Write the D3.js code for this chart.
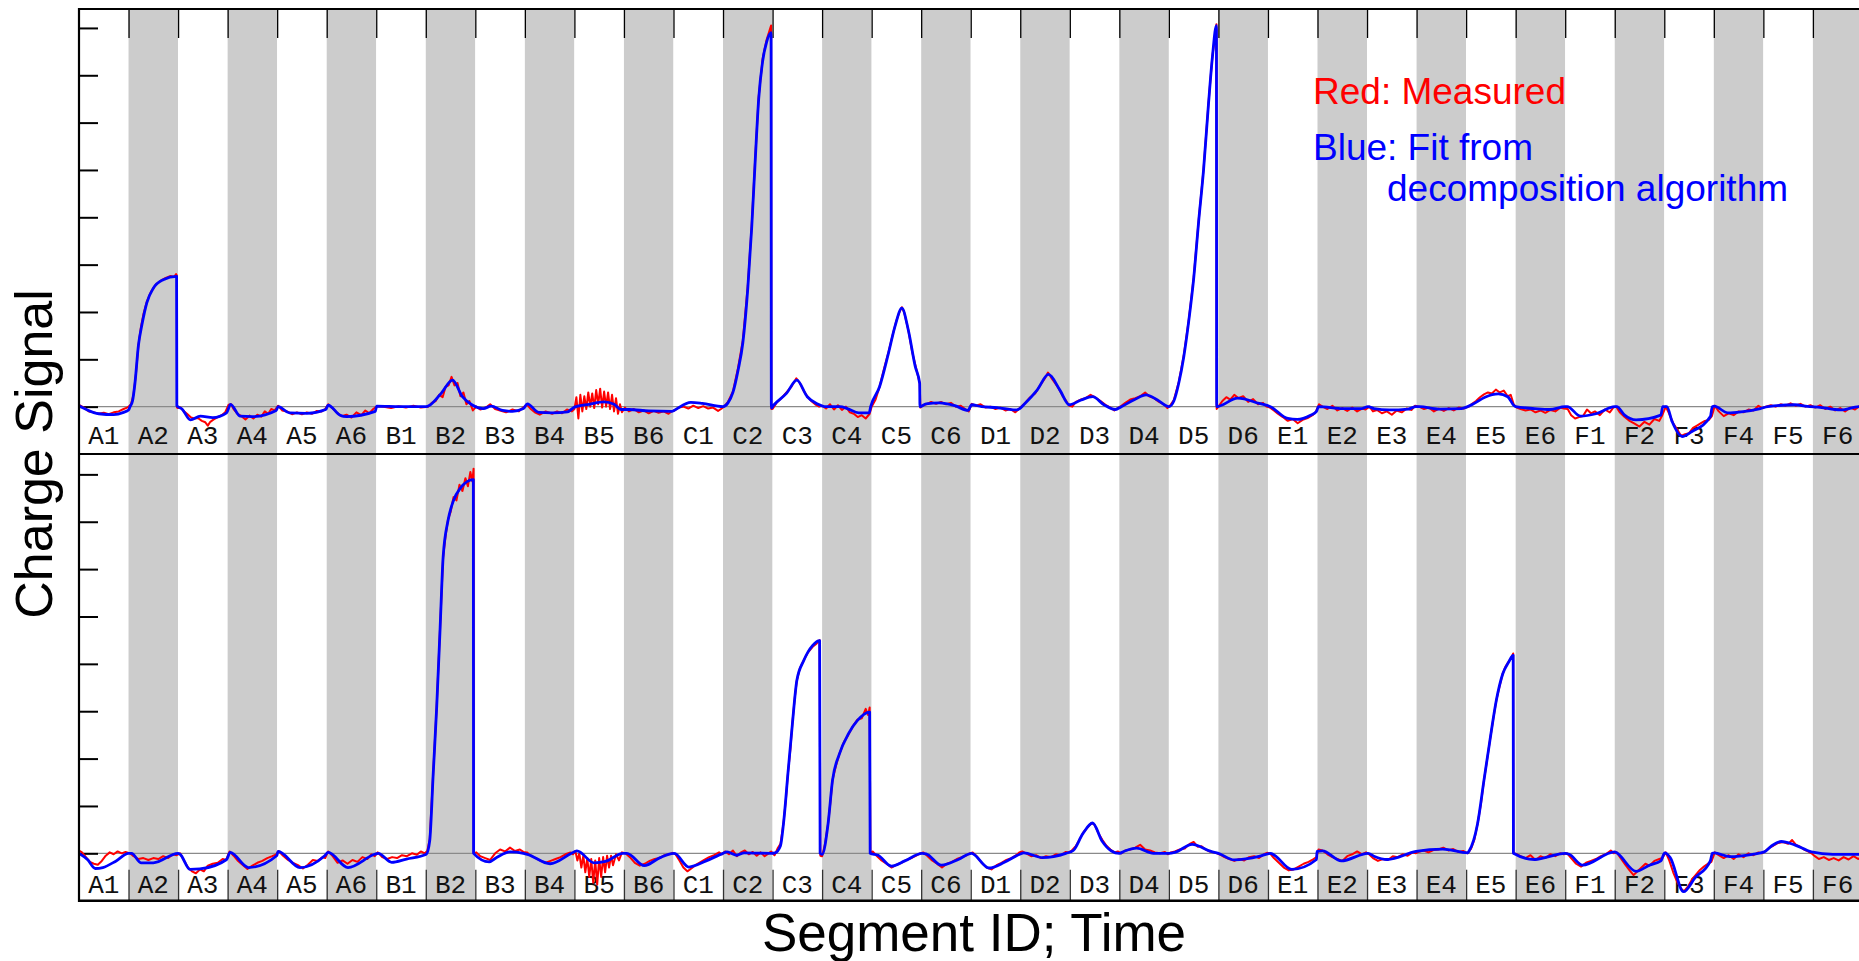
<!DOCTYPE html>
<html>
<head>
<meta charset="utf-8">
<script src="https://cdn.jsdelivr.net/npm/d3@7"></script>
<style>
  body { margin: 0; background: #fff; overflow: hidden; }
  text { font-family: "Liberation Sans", Arial, sans-serif; }
  .seg { font-family: "Liberation Mono", "Courier New", monospace; font-size: 26px; fill: #111; }
</style>
</head>
<body>
<svg id="chart" width="1859" height="961"></svg>
<script>
// segment ids along the time axis
var segments = ["A1","A2","A3","A4","A5","A6","B1","B2","B3","B4","B5","B6",
                "C1","C2","C3","C4","C5","C6","D1","D2","D3","D4","D5","D6",
                "E1","E2","E3","E4","E5","E6","F1","F2","F3","F4","F5","F6"];
var yTicks = [0, 1, 2, 3, 4, 5, 6, 7, 8];

// [time in segment units, charge]
var topFit = [
  [0,0.02],[0.15,-0.06],[0.4,-0.15],[0.7,-0.17],[0.9,-0.12],[1.0,-0.07],
  [1.03,0],[1.08,0.12],[1.13,0.5],[1.2,1.3],[1.27,1.73],[1.37,2.2],[1.5,2.5],[1.7,2.68],[1.97,2.75],[1.975,0.02],
  [2.08,-0.05],[2.25,-0.28],[2.45,-0.2],[2.7,-0.23],[2.98,-0.13],
  [3.06,0.05],[3.25,-0.2],[3.5,-0.21],[3.98,-0.08],
  [4.02,0.0],[4.25,-0.13],[4.6,-0.14],[4.98,-0.06],
  [5.03,0.03],[5.27,-0.18],[5.4,-0.21],[5.98,-0.1],
  [6.01,0.01],[6.5,0.0],[7.0,0.0],
  [7.08,0.03],[7.31,0.28],[7.54,0.56],[7.74,0.21],[7.93,0.04],
  [8.16,-0.04],[8.32,0.01],[8.55,-0.08],[8.75,-0.1],[8.97,-0.04],
  [9.05,0.06],[9.28,-0.12],[9.55,-0.13],[9.86,-0.11],[10.0,-0.01],
  [10.3,0.05],[10.6,0.1],[10.8,0.05],[10.94,-0.06],
  [11.1,-0.06],[11.5,-0.09],[11.97,-0.1],
  [12.01,-0.08],[12.35,0.09],[12.58,0.07],[13.0,0.0],
  [13.1,0.08],[13.2,0.3],[13.3,0.75],[13.4,1.35],[13.5,2.5],[13.58,3.8],[13.65,5.2],[13.72,6.5],[13.8,7.3],[13.88,7.7],[13.97,7.9],[13.975,-0.03],
  [14.02,0.03],[14.28,0.28],[14.49,0.56],[14.7,0.21],[14.9,0.06],
  [15.05,0.0],[15.36,0.0],[15.51,-0.04],[15.74,-0.13],[15.95,-0.13],[15.98,0.0],
  [16.16,0.42],[16.34,1.13],[16.47,1.69],[16.61,2.08],[16.74,1.62],[16.88,0.85],[16.97,0.49],[16.975,0.0],
  [17.1,0.06],[17.37,0.08],[17.68,0.02],[17.95,-0.08],[17.99,0.0],
  [18.02,0.04],[18.22,0.0],[18.53,-0.02],[18.91,-0.07],[18.99,-0.04],
  [19.07,0.04],[19.34,0.35],[19.57,0.68],[19.8,0.35],[19.99,0.04],
  [20.23,0.14],[20.46,0.21],[20.69,0.04],[20.92,-0.06],[21.04,0.0],
  [21.31,0.15],[21.54,0.25],[21.77,0.14],[22.0,0.0],
  [22.1,0.12],[22.2,0.5],[22.3,1.05],[22.4,1.8],[22.5,2.7],[22.6,3.9],[22.7,5.0],[22.8,6.4],[22.88,7.4],[22.96,8.05],[22.965,0.0],
  [23.39,0.18],[23.82,0.07],[24.05,0.0],
  [24.4,-0.25],[24.59,-0.27],[24.86,-0.18],[24.98,-0.1],
  [25.02,0.0],[25.52,-0.04],[25.9,-0.04],[26.02,0.0],
  [26.14,-0.04],[26.45,-0.07],[26.83,-0.05],[26.99,0.0],
  [27.06,0.0],[27.45,-0.05],[27.91,-0.04],[28.03,0.0],
  [28.15,0.06],[28.38,0.2],[28.65,0.27],[28.84,0.21],[28.96,0.03],
  [29.0,0.0],[29.38,-0.04],[29.69,-0.06],[30.0,0.0],
  [30.04,0.0],[30.31,-0.2],[30.62,-0.15],[31.0,0.0],
  [31.04,0.0],[31.2,-0.18],[31.43,-0.28],[31.93,-0.18],[31.97,0.0],
  [32.05,0.0],[32.16,-0.32],[32.36,-0.63],[32.55,-0.53],[32.93,-0.21],[32.97,0.0],
  [33.01,0.01],[33.28,-0.13],[33.55,-0.11],[33.94,-0.04],
  [34.09,0.0],[34.63,0.04],[34.94,0.0],
  [35.1,-0.01],[35.56,-0.07],[35.93,0.0],[36.0,0.0]
];

var topMeasured = [
  [0,0.04],[0.1,-0.02],[0.2,-0.1],[0.3,-0.12],[0.4,-0.15],[0.5,-0.13],[0.6,-0.16],[0.7,-0.12],[0.8,-0.1],[0.9,-0.05],[0.97,-0.02],
  [1.0,0],[1.05,0.05],[1.1,0.25],[1.15,0.7],[1.2,1.3],[1.25,1.68],[1.3,1.95],[1.37,2.22],[1.45,2.42],[1.55,2.58],[1.65,2.66],[1.75,2.72],[1.85,2.76],[1.92,2.74],[1.96,2.8],[1.975,2.77],[1.978,-0.02],
  [2.0,-0.03],[2.05,-0.02],[2.1,-0.08],[2.18,-0.15],[2.25,-0.22],[2.32,-0.25],[2.4,-0.24],[2.48,-0.3],[2.55,-0.33],[2.6,-0.4],[2.65,-0.32],[2.72,-0.27],[2.8,-0.22],[2.88,-0.18],[2.95,-0.12],
  [3.02,0.04],[3.07,0.05],[3.12,-0.05],[3.2,-0.15],[3.28,-0.2],[3.36,-0.27],[3.44,-0.19],[3.52,-0.25],[3.6,-0.17],[3.68,-0.21],[3.75,-0.1],[3.82,-0.15],[3.88,-0.05],[3.95,-0.08],
  [4.02,0.02],[4.1,-0.08],[4.2,-0.1],[4.3,-0.16],[4.4,-0.12],[4.5,-0.16],[4.6,-0.12],[4.7,-0.15],[4.8,-0.09],[4.9,-0.1],[4.97,-0.05],
  [5.03,0.05],[5.1,-0.02],[5.2,-0.12],[5.3,-0.2],[5.4,-0.17],[5.5,-0.23],[5.6,-0.12],[5.7,-0.18],[5.78,-0.08],[5.86,-0.14],[5.94,-0.05],
  [6.02,0.01],[6.15,0.0],[6.3,-0.03],[6.45,0.01],[6.6,-0.02],[6.75,0.02],[6.9,-0.02],
  [7.05,0.0],[7.12,0.08],[7.2,0.12],[7.27,0.25],[7.34,0.2],[7.4,0.42],[7.46,0.45],[7.52,0.63],[7.58,0.45],[7.64,0.5],[7.7,0.22],[7.76,0.3],[7.82,0.05],[7.88,0.12],[7.95,-0.08],
  [8.02,0.0],[8.1,-0.06],[8.2,-0.03],[8.3,0.05],[8.4,-0.05],[8.5,-0.08],[8.62,-0.12],[8.75,-0.06],[8.88,-0.1],[8.96,-0.02],
  [9.05,0.04],[9.12,-0.05],[9.2,-0.12],[9.3,-0.17],[9.42,-0.1],[9.55,-0.15],[9.65,-0.1],[9.75,-0.14],[9.85,-0.06],[9.95,-0.1],
  [10.0,-0.05],[10.04,0.2],[10.08,-0.25],[10.12,0.25],[10.16,-0.1],[10.2,0.22],[10.24,-0.05],[10.28,0.3],[10.32,0.0],[10.36,0.28],[10.4,-0.03],[10.44,0.35],[10.48,0.05],[10.52,0.38],[10.56,-0.02],[10.6,0.32],[10.64,0.0],[10.68,0.3],[10.72,-0.05],[10.76,0.25],[10.8,-0.1],[10.84,0.18],[10.88,-0.15],[10.92,0.05],[10.96,-0.12],
  [11.02,-0.02],[11.1,-0.1],[11.2,-0.05],[11.3,-0.12],[11.4,-0.08],[11.5,-0.14],[11.6,-0.09],[11.7,-0.13],[11.8,-0.1],[11.9,-0.15],[11.96,-0.1],
  [12.02,-0.08],[12.1,-0.02],[12.2,0.0],[12.3,-0.04],[12.4,0.02],[12.5,-0.03],[12.6,0.01],[12.7,-0.04],[12.8,-0.02],[12.9,-0.09],[12.96,-0.05],
  [13.02,0.0],[13.1,0.1],[13.2,0.32],[13.3,0.8],[13.4,1.4],[13.5,2.55],[13.58,3.85],[13.65,5.25],[13.72,6.55],[13.8,7.35],[13.88,7.75],[13.94,7.95],[13.97,8.05],[13.975,-0.05],
  [14.0,-0.05],[14.08,0.08],[14.18,0.18],[14.28,0.3],[14.38,0.42],[14.48,0.6],[14.55,0.5],[14.62,0.35],[14.7,0.22],[14.78,0.12],[14.86,0.05],[14.94,0.0],
  [15.0,0.02],[15.08,-0.04],[15.16,0.05],[15.24,-0.06],[15.32,0.03],[15.4,-0.07],[15.48,0.0],[15.56,-0.12],[15.64,-0.15],[15.72,-0.22],[15.8,-0.18],[15.88,-0.25],[15.96,-0.15],
  [16.0,0.0],[16.08,0.15],[16.16,0.42],[16.25,0.8],[16.34,1.15],[16.42,1.5],[16.5,1.82],[16.57,2.02],[16.61,2.1],[16.66,1.98],[16.74,1.62],[16.82,1.15],[16.9,0.8],[16.97,0.5],[16.985,-0.02],
  [17.02,0.02],[17.1,0.05],[17.2,0.1],[17.3,0.06],[17.4,0.1],[17.5,0.05],[17.6,0.08],[17.7,0.0],[17.8,0.02],[17.9,-0.06],[17.96,-0.1],
  [18.02,0.06],[18.1,0.02],[18.2,0.05],[18.3,-0.02],[18.4,0.0],[18.5,-0.05],[18.6,-0.02],[18.7,-0.08],[18.8,-0.05],[18.9,-0.12],[18.96,-0.06],
  [19.02,0.0],[19.1,0.08],[19.2,0.2],[19.3,0.28],[19.4,0.45],[19.5,0.6],[19.56,0.72],[19.62,0.62],[19.7,0.5],[19.78,0.38],[19.86,0.22],[19.94,0.1],[19.99,0.02],
  [20.05,0.0],[20.12,0.1],[20.22,0.15],[20.32,0.18],[20.42,0.25],[20.52,0.19],[20.62,0.12],[20.72,0.04],[20.82,-0.02],[20.9,-0.08],[20.97,-0.03],
  [21.04,0.02],[21.12,0.08],[21.22,0.15],[21.32,0.18],[21.42,0.22],[21.52,0.3],[21.6,0.22],[21.7,0.18],[21.8,0.1],[21.9,0.05],[21.97,-0.03],
  [22.02,0.02],[22.1,0.14],[22.2,0.52],[22.3,1.08],[22.4,1.82],[22.5,2.72],[22.6,3.92],[22.7,5.02],[22.8,6.42],[22.88,7.42],[22.93,7.8],[22.96,8.08],[22.965,-0.05],
  [23.0,0.0],[23.08,0.12],[23.16,0.2],[23.24,0.15],[23.32,0.25],[23.4,0.18],[23.5,0.22],[23.6,0.1],[23.7,0.16],[23.8,0.05],[23.9,0.08],[23.97,0.0],
  [24.04,-0.02],[24.12,-0.08],[24.2,-0.15],[24.3,-0.22],[24.4,-0.3],[24.5,-0.26],[24.6,-0.35],[24.7,-0.28],[24.8,-0.24],[24.9,-0.18],[24.96,-0.12],
  [25.03,0.05],[25.1,0.0],[25.2,-0.05],[25.3,0.02],[25.4,-0.08],[25.5,-0.03],[25.6,-0.09],[25.7,-0.02],[25.8,-0.1],[25.9,-0.04],[25.97,-0.06],
  [26.05,0.0],[26.12,-0.1],[26.2,-0.07],[26.3,-0.14],[26.4,-0.1],[26.5,-0.17],[26.6,-0.08],[26.7,-0.12],[26.8,-0.04],[26.9,-0.07],[26.97,0.02],
  [27.05,0.0],[27.15,-0.05],[27.25,-0.02],[27.35,-0.1],[27.45,-0.04],[27.55,-0.09],[27.65,-0.03],[27.75,-0.08],[27.85,-0.02],[27.95,-0.04],
  [28.05,0.0],[28.12,0.06],[28.2,0.12],[28.28,0.2],[28.36,0.26],[28.44,0.3],[28.52,0.28],[28.6,0.36],[28.68,0.3],[28.76,0.34],[28.84,0.22],[28.9,0.25],[28.96,0.05],
  [29.02,-0.02],[29.1,-0.05],[29.2,-0.08],[29.3,-0.06],[29.4,-0.12],[29.5,-0.08],[29.6,-0.13],[29.7,-0.07],[29.8,-0.1],[29.9,-0.02],[29.97,-0.04],
  [30.05,-0.05],[30.12,-0.18],[30.2,-0.25],[30.28,-0.22],[30.36,-0.2],[30.44,-0.06],[30.52,-0.14],[30.6,-0.1],[30.7,-0.18],[30.8,-0.06],[30.9,-0.12],[30.97,-0.02],
  [31.03,0.0],[31.1,-0.12],[31.2,-0.22],[31.3,-0.3],[31.4,-0.36],[31.5,-0.42],[31.6,-0.32],[31.7,-0.38],[31.8,-0.26],[31.9,-0.3],[31.96,-0.18],
  [32.03,0.0],[32.1,-0.15],[32.18,-0.35],[32.26,-0.48],[32.34,-0.62],[32.42,-0.58],[32.5,-0.56],[32.58,-0.45],[32.66,-0.4],[32.74,-0.35],[32.82,-0.3],[32.9,-0.28],[32.96,-0.2],
  [33.02,0.02],[33.1,-0.1],[33.2,-0.2],[33.3,-0.14],[33.4,-0.18],[33.5,-0.1],[33.6,-0.12],[33.7,-0.06],[33.8,-0.08],[33.9,0.02],[33.97,-0.03],
  [34.05,0.0],[34.15,0.03],[34.25,0.0],[34.35,0.05],[34.45,0.02],[34.55,0.07],[34.65,0.02],[34.75,0.06],[34.85,0.0],[34.95,0.03],
  [35.05,-0.02],[35.15,0.03],[35.25,-0.05],[35.35,0.0],[35.45,-0.08],[35.55,-0.03],[35.65,-0.1],[35.75,-0.02],[35.85,-0.06],[35.95,0.02],[36.0,0.0]
];

var bottomFit = [
  [0,0.0],[0.17,-0.13],[0.33,-0.32],[0.48,-0.3],[0.75,-0.16],[1.0,0.0],
  [1.06,0.0],[1.25,-0.2],[1.5,-0.2],[2.0,0.0],
  [2.04,-0.02],[2.24,-0.34],[2.44,-0.33],[2.98,-0.13],
  [3.05,0.02],[3.42,-0.3],[3.99,-0.05],
  [4.02,0.04],[4.46,-0.3],[4.96,-0.05],
  [5.03,0.02],[5.43,-0.3],[5.97,-0.02],
  [6.04,0.0],[6.31,-0.19],[6.61,-0.12],[7.01,-0.02],
  [7.08,0.27],[7.15,1.68],[7.22,3.08],[7.29,4.77],[7.35,6.25],[7.45,7.03],[7.56,7.45],[7.69,7.7],[7.96,7.89],[7.965,0.0],
  [8.28,-0.18],[8.43,-0.09],[8.7,0.03],[8.97,0.0],
  [9.05,-0.02],[9.51,-0.22],[9.94,0.0],
  [10.05,0.05],[10.4,-0.2],[10.63,-0.17],[10.98,0.0],
  [11.06,0.0],[11.41,-0.26],[11.73,-0.09],[12.01,0.0],
  [12.04,-0.01],[12.31,-0.29],[12.66,-0.16],[13.0,0.0],
  [13.08,0.03],[13.27,-0.04],[13.43,0.01],[13.97,0.0],
  [14.05,0.01],[14.16,0.16],[14.22,0.62],[14.31,1.68],[14.4,2.73],[14.49,3.65],[14.63,4.07],[14.81,4.39],[14.95,4.49],[14.96,0.0],
  [15.0,-0.02],[15.12,0.62],[15.21,1.54],[15.35,2.1],[15.53,2.52],[15.71,2.8],[15.96,2.98],[15.97,0.0],
  [16.13,-0.04],[16.4,-0.27],[16.67,-0.16],[17.02,0.0],
  [17.1,-0.01],[17.41,-0.25],[17.75,-0.13],[18.02,0.0],
  [18.06,-0.02],[18.37,-0.31],[18.68,-0.19],[18.99,-0.02],
  [19.07,0.01],[19.45,-0.09],[19.92,0.0],
  [20.07,0.06],[20.26,0.41],[20.46,0.64],[20.65,0.26],[20.84,0.05],[21.0,0.0],
  [21.11,0.05],[21.35,0.11],[21.69,0.0],[22.0,0.0],
  [22.12,0.02],[22.47,0.19],[22.85,0.04],[23.0,0.0],
  [23.32,-0.14],[23.84,-0.06],[24.05,0.0],
  [24.13,-0.04],[24.48,-0.34],[24.98,-0.13],
  [24.99,0.04],[25.1,0.05],[25.48,-0.16],[26.02,0.0],
  [26.14,-0.06],[26.41,-0.13],[26.99,0.04],
  [27.53,0.09],[28.03,0.01],
  [28.06,0.05],[28.23,0.62],[28.36,1.54],[28.48,2.38],[28.61,3.23],[28.74,3.79],[28.86,4.04],[28.95,4.18],[28.955,0.0],
  [29.38,-0.13],[30.0,0.0],
  [30.08,-0.02],[30.35,-0.25],[31.0,0.03],
  [31.04,0.01],[31.43,-0.38],[31.7,-0.25],[31.93,-0.16],
  [32.01,0.01],[32.12,-0.09],[32.39,-0.81],[32.62,-0.52],[32.93,-0.16],[32.97,0.0],
  [33.01,0.01],[33.32,-0.07],[33.78,-0.02],[34.02,0.03],
  [34.17,0.16],[34.36,0.25],[34.63,0.18],[34.97,0.03],
  [35.4,-0.02],[35.93,-0.02],[36.0,-0.02]
];

var bottomMeasured = [
  [0.0,0.06],[0.06,0.02],[0.14,-0.08],[0.22,-0.18],[0.3,-0.22],[0.38,-0.24],[0.46,-0.16],[0.54,-0.05],[0.62,0.02],[0.7,-0.02],[0.78,0.04],[0.86,0.0],[0.94,0.03],
  [1.03,0.0],[1.1,-0.06],[1.2,-0.12],[1.3,-0.1],[1.4,-0.14],[1.5,-0.1],[1.6,-0.12],[1.7,-0.06],[1.8,-0.1],[1.9,-0.02],[1.97,-0.04],
  [2.04,0.0],[2.12,-0.15],[2.2,-0.3],[2.28,-0.38],[2.36,-0.42],[2.44,-0.34],[2.52,-0.38],[2.6,-0.26],[2.7,-0.22],[2.8,-0.2],[2.9,-0.12],[2.97,-0.14],
  [3.04,0.04],[3.12,-0.05],[3.2,-0.15],[3.3,-0.24],[3.4,-0.33],[3.5,-0.26],[3.6,-0.2],[3.7,-0.16],[3.8,-0.1],[3.9,-0.06],[3.97,-0.03],
  [4.03,0.05],[4.12,-0.05],[4.22,-0.14],[4.32,-0.2],[4.42,-0.25],[4.52,-0.32],[4.62,-0.24],[4.72,-0.14],[4.82,-0.16],[4.92,-0.08],[4.97,-0.1],
  [5.03,0.04],[5.12,-0.06],[5.22,-0.2],[5.32,-0.15],[5.42,-0.22],[5.52,-0.14],[5.62,-0.18],[5.72,-0.08],[5.82,-0.12],[5.9,-0.02],[5.97,-0.06],
  [6.03,0.02],[6.12,-0.08],[6.22,-0.12],[6.32,-0.08],[6.42,-0.1],[6.52,-0.04],[6.62,-0.06],[6.72,0.0],[6.82,-0.03],[6.9,0.04],[6.98,0.0],
  [7.03,0.05],[7.08,0.3],[7.15,1.7],[7.22,3.1],[7.29,4.8],[7.35,6.25],[7.4,6.7],[7.45,7.05],[7.5,7.2],[7.56,7.52],[7.62,7.45],[7.68,7.78],[7.74,7.65],[7.8,7.92],[7.85,7.75],[7.9,8.05],[7.94,7.85],[7.965,8.12],[7.968,0.0],
  [8.02,0.02],[8.1,-0.06],[8.2,-0.1],[8.3,-0.14],[8.4,0.0],[8.5,0.08],[8.6,0.04],[8.7,0.12],[8.8,0.05],[8.9,0.08],[8.97,0.03],
  [9.04,0.02],[9.12,-0.05],[9.22,-0.1],[9.32,-0.16],[9.42,-0.2],[9.52,-0.16],[9.62,-0.12],[9.72,-0.08],[9.82,-0.02],[9.92,0.02],[9.97,-0.02],
  [10.02,0.05],[10.06,-0.15],[10.1,0.0],[10.14,-0.3],[10.18,-0.05],[10.22,-0.4],[10.26,-0.1],[10.3,-0.5],[10.34,-0.12],[10.38,-0.62],[10.42,-0.15],[10.46,-0.66],[10.5,-0.1],[10.54,-0.5],[10.58,-0.08],[10.62,-0.4],[10.66,-0.05],[10.7,-0.3],[10.74,-0.05],[10.78,-0.25],[10.84,-0.02],[10.9,-0.15],[10.96,0.02],
  [11.03,0.0],[11.12,-0.08],[11.22,-0.2],[11.32,-0.26],[11.42,-0.22],[11.52,-0.16],[11.62,-0.12],[11.72,-0.1],[11.82,-0.04],[11.92,-0.02],[11.98,0.01],
  [12.04,-0.02],[12.12,-0.15],[12.2,-0.3],[12.28,-0.38],[12.36,-0.32],[12.44,-0.25],[12.52,-0.2],[12.62,-0.14],[12.72,-0.08],[12.82,-0.04],[12.92,0.02],[12.98,-0.02],
  [13.04,0.04],[13.12,-0.02],[13.2,0.06],[13.28,-0.06],[13.36,0.02],[13.44,0.06],[13.52,-0.02],[13.6,0.03],[13.68,-0.05],[13.76,0.02],[13.84,-0.06],[13.92,0.0],[13.97,0.04],
  [14.04,-0.04],[14.1,0.1],[14.16,0.2],[14.22,0.63],[14.27,1.15],[14.31,1.68],[14.36,2.2],[14.4,2.75],[14.45,3.3],[14.49,3.65],[14.55,3.9],[14.63,4.08],[14.72,4.25],[14.81,4.36],[14.88,4.42],[14.95,4.5],[14.965,-0.05],
  [15.0,-0.06],[15.06,0.2],[15.12,0.62],[15.17,1.1],[15.21,1.55],[15.28,1.85],[15.35,2.1],[15.44,2.35],[15.53,2.5],[15.62,2.68],[15.71,2.82],[15.8,2.85],[15.88,3.05],[15.93,2.92],[15.96,3.08],[15.975,0.0],
  [16.02,0.04],[16.1,-0.05],[16.2,-0.15],[16.3,-0.22],[16.4,-0.3],[16.5,-0.24],[16.6,-0.2],[16.7,-0.14],[16.8,-0.1],[16.9,-0.05],[16.98,0.0],
  [17.04,0.02],[17.12,-0.05],[17.22,-0.15],[17.32,-0.22],[17.42,-0.3],[17.52,-0.22],[17.62,-0.18],[17.72,-0.12],[17.82,-0.08],[17.92,-0.04],[17.98,0.0],
  [18.04,0.02],[18.12,-0.06],[18.22,-0.2],[18.32,-0.3],[18.42,-0.34],[18.52,-0.25],[18.62,-0.2],[18.72,-0.14],[18.82,-0.1],[18.92,-0.04],[18.98,0.02],
  [19.04,0.04],[19.12,0.0],[19.22,-0.06],[19.32,-0.04],[19.42,-0.1],[19.52,-0.06],[19.62,-0.08],[19.72,-0.02],[19.82,-0.04],[19.92,0.03],[19.98,0.02],
  [20.04,0.06],[20.12,0.15],[20.2,0.3],[20.28,0.45],[20.36,0.55],[20.44,0.64],[20.5,0.6],[20.58,0.42],[20.66,0.28],[20.74,0.16],[20.82,0.08],[20.9,0.02],[20.97,0.04],
  [21.04,0.0],[21.12,0.06],[21.22,0.08],[21.32,0.12],[21.42,0.18],[21.52,0.08],[21.62,0.06],[21.72,0.02],[21.82,0.0],[21.92,0.03],[21.98,-0.02],
  [22.04,0.02],[22.12,0.04],[22.22,0.08],[22.32,0.1],[22.42,0.2],[22.5,0.24],[22.58,0.14],[22.66,0.15],[22.74,0.08],[22.82,0.04],[22.9,0.02],[22.97,0.0],
  [23.04,-0.03],[23.12,-0.08],[23.22,-0.12],[23.32,-0.16],[23.42,-0.12],[23.52,-0.15],[23.62,-0.08],[23.72,-0.06],[23.82,-0.1],[23.92,-0.02],[23.98,0.01],
  [24.04,0.0],[24.12,-0.1],[24.22,-0.2],[24.32,-0.3],[24.42,-0.36],[24.52,-0.34],[24.62,-0.28],[24.72,-0.22],[24.82,-0.18],[24.92,-0.12],[24.98,-0.08],
  [25.02,0.08],[25.1,0.06],[25.2,-0.02],[25.3,-0.08],[25.4,-0.12],[25.5,-0.16],[25.6,-0.06],[25.7,-0.02],[25.8,0.04],[25.9,-0.02],[25.98,0.02],
  [26.04,-0.02],[26.12,-0.1],[26.22,-0.16],[26.32,-0.12],[26.42,-0.14],[26.52,-0.06],[26.62,-0.08],[26.72,-0.02],[26.82,-0.05],[26.92,0.02],[26.98,0.0],
  [27.04,0.03],[27.14,0.06],[27.24,0.02],[27.34,0.07],[27.44,0.08],[27.54,0.12],[27.64,0.06],[27.74,0.09],[27.84,0.03],[27.94,0.05],
  [28.03,0.0],[28.1,0.1],[28.17,0.3],[28.23,0.62],[28.3,1.05],[28.36,1.54],[28.42,1.95],[28.48,2.38],[28.55,2.85],[28.61,3.23],[28.68,3.55],[28.74,3.8],[28.8,3.95],[28.86,4.05],[28.91,4.12],[28.95,4.22],[28.955,0.0],
  [29.02,-0.02],[29.1,-0.06],[29.2,-0.1],[29.3,-0.04],[29.4,-0.14],[29.5,-0.06],[29.6,-0.1],[29.7,-0.02],[29.8,-0.06],[29.9,0.0],[29.97,-0.02],
  [30.04,0.0],[30.12,-0.1],[30.22,-0.22],[30.32,-0.28],[30.42,-0.2],[30.52,-0.16],[30.62,-0.12],[30.72,-0.06],[30.82,-0.02],[30.92,0.06],[30.98,0.0],
  [31.04,0.02],[31.12,-0.1],[31.22,-0.25],[31.3,-0.36],[31.38,-0.46],[31.46,-0.38],[31.54,-0.3],[31.62,-0.22],[31.7,-0.26],[31.8,-0.16],[31.9,-0.12],[31.96,-0.1],
  [32.03,0.02],[32.1,-0.15],[32.18,-0.4],[32.26,-0.6],[32.34,-0.75],[32.4,-0.8],[32.48,-0.7],[32.56,-0.55],[32.64,-0.45],[32.72,-0.35],[32.8,-0.28],[32.88,-0.22],[32.95,-0.18],
  [33.02,0.02],[33.1,-0.04],[33.2,-0.1],[33.3,-0.04],[33.4,-0.12],[33.5,-0.02],[33.6,-0.08],[33.7,0.0],[33.8,-0.04],[33.9,0.02],[33.97,0.0],
  [34.04,0.05],[34.12,0.12],[34.2,0.16],[34.3,0.22],[34.4,0.24],[34.5,0.2],[34.58,0.28],[34.66,0.18],[34.74,0.14],[34.82,0.08],[34.9,0.04],[34.97,0.0],
  [35.04,-0.06],[35.12,-0.12],[35.22,-0.08],[35.32,-0.14],[35.42,-0.1],[35.52,-0.15],[35.62,-0.08],[35.72,-0.13],[35.82,-0.06],[35.92,-0.12],[36.0,-0.05]
];

var svg = d3.select("#chart");

var left = 79, segW = 49.54;
var x = d3.scaleLinear().domain([0, segments.length]).range([left, left + segW * segments.length]);
var right = x(segments.length);

var panels = [
  { fit: topFit, meas: topMeasured, top: 9, bottom: 454, labelY: 444, maxV: 8.4, topTicks: true, cellLines: false },
  { fit: bottomFit, meas: bottomMeasured, top: 454, bottom: 900.7, labelY: 893, maxV: 8.43, topTicks: false, cellLines: true }
];

panels.forEach(function(p) {
  var y = d3.scaleLinear().domain([-1, p.maxV]).range([p.bottom, p.top]);
  var g = svg.append("g");

  // alternating grey stripes, one per segment
  g.selectAll("rect.stripe")
    .data(segments)
    .enter().append("rect")
    .attr("class", "stripe")
    .attr("x", function(d, i) { return x(i); })
    .attr("y", p.top)
    .attr("width", function(d, i) { return x(i + 1) - x(i); })
    .attr("height", p.bottom - p.top)
    .attr("fill", function(d, i) { return i % 2 ? "#cccccc" : "#ffffff"; });

  // segment names
  g.selectAll("text.seg")
    .data(segments)
    .enter().append("text")
    .attr("class", "seg")
    .attr("x", function(d, i) { return x(i + 0.5); })
    .attr("y", p.labelY)
    .attr("text-anchor", "middle")
    .text(function(d) { return d; });

  if (p.cellLines) {
    var cells = g.append("g")
      .attr("transform", "translate(0," + p.bottom + ")")
      .call(d3.axisTop(x).tickValues(d3.range(1, segments.length)).tickSize(31).tickFormat(""));
    cells.select(".domain").remove();
    cells.selectAll("line").attr("stroke", "#333").attr("stroke-width", 1.3);
  }

  // zero line
  g.append("line")
    .attr("x1", left).attr("x2", right)
    .attr("y1", y(0)).attr("y2", y(0))
    .attr("stroke", "#8a8a8a").attr("stroke-width", 1.3);

  var yAxis = g.append("g")
    .attr("transform", "translate(" + left + ",0)")
    .call(d3.axisRight(y).tickValues(yTicks).tickSize(19).tickFormat(""));
  yAxis.select(".domain").remove();
  yAxis.selectAll("line").attr("stroke", "#000").attr("stroke-width", 2);

  if (p.topTicks) {
    var xt = g.append("g")
      .attr("transform", "translate(0," + p.top + ")")
      .call(d3.axisBottom(x).tickValues(d3.range(1, segments.length)).tickSize(29).tickFormat(""));
    xt.select(".domain").remove();
    xt.selectAll("line").attr("stroke", "#000").attr("stroke-width", 1.3);
  }

  var measLine = d3.line()
    .x(function(d) { return x(d[0]); })
    .y(function(d) { return y(d[1]); });
  var fitLine = d3.line()
    .x(function(d) { return x(d[0]); })
    .y(function(d) { return y(d[1]); })
    .curve(d3.curveMonotoneX);

  g.append("path")
    .datum(p.meas)
    .attr("d", measLine)
    .attr("fill", "none")
    .attr("stroke", "#ff0000")
    .attr("stroke-width", 2)
    .attr("stroke-linejoin", "round");

  g.append("path")
    .datum(p.fit)
    .attr("d", fitLine)
    .attr("fill", "none")
    .attr("stroke", "#0000ff")
    .attr("stroke-width", 2.8)
    .attr("stroke-linejoin", "round");
});

// frame
svg.append("line").attr("x1", left).attr("x2", right).attr("y1", 9).attr("y2", 9)
  .attr("stroke", "#000").attr("stroke-width", 2);
svg.append("line").attr("x1", left).attr("x2", right).attr("y1", 454).attr("y2", 454)
  .attr("stroke", "#000").attr("stroke-width", 2.2);
svg.append("line").attr("x1", left).attr("x2", right).attr("y1", 900.7).attr("y2", 900.7)
  .attr("stroke", "#000").attr("stroke-width", 2.6);
svg.append("line").attr("x1", left).attr("x2", left).attr("y1", 8).attr("y2", 902)
  .attr("stroke", "#000").attr("stroke-width", 2.2);

// titles
svg.append("text")
  .attr("transform", "translate(52,454) rotate(-90)")
  .attr("text-anchor", "middle")
  .attr("font-size", 52)
  .attr("fill", "#000")
  .text("Charge Signal");

svg.append("text")
  .attr("x", 974).attr("y", 951)
  .attr("text-anchor", "middle")
  .attr("font-size", 53)
  .attr("fill", "#000")
  .text("Segment ID; Time");

// legend notes
svg.append("text").attr("x", 1313).attr("y", 104)
  .attr("font-size", 37).attr("fill", "#ff0000").text("Red: Measured");
svg.append("text").attr("x", 1313).attr("y", 160)
  .attr("font-size", 37).attr("fill", "#0000ff").text("Blue: Fit from");
svg.append("text").attr("x", 1387).attr("y", 201)
  .attr("font-size", 37).attr("fill", "#0000ff").text("decomposition algorithm");
</script>
</body>
</html>
